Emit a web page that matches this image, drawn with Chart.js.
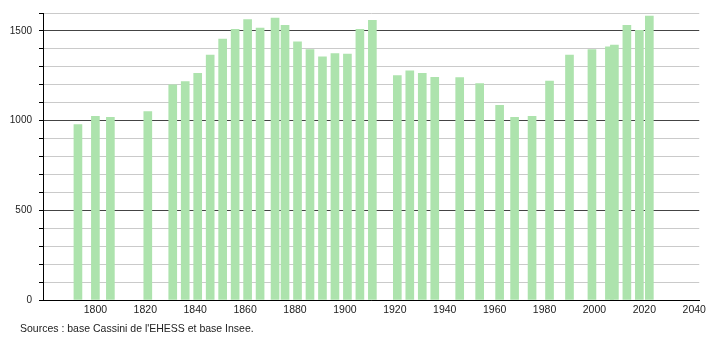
<!DOCTYPE html>
<html>
<head>
<meta charset="utf-8">
<script src="https://cdn.jsdelivr.net/npm/chart.js@4/dist/chart.umd.min.js"></script>
<style>
  html, body { margin: 0; padding: 0; background: #fff; }
  #wrap { position: relative; width: 710px; height: 340px; }
  #source {
    position: absolute; left: 20px; top: 322px;
    font: 10.5px "Liberation Sans", Arial, sans-serif; color: #222;
  }
</style>
</head>
<body>
<div id="wrap">
  <canvas id="popChart" width="710" height="340"></canvas>
  <div id="source">Sources : base Cassini de l'EHESS et base Insee.</div>
</div>
<script>
// Census years and population
const years = [1793, 1800, 1806, 1821, 1831, 1836, 1841, 1846, 1851, 1856,
  1861, 1866, 1872, 1876, 1881, 1886, 1891, 1896, 1901, 1906, 1911,
  1921, 1926, 1931, 1936, 1946, 1954, 1962, 1968, 1975, 1982, 1990,
  1999, 2006, 2008, 2013, 2018, 2022];
const population = [978, 1024, 1018, 1051, 1199, 1217, 1263, 1365, 1454, 1509,
  1564, 1516, 1572, 1531, 1439, 1396, 1356, 1374, 1371, 1509, 1559,
  1251, 1277, 1263, 1241, 1240, 1206, 1085, 1018, 1024, 1221, 1365,
  1396, 1412, 1421, 1531, 1503, 1583];

// Axis labels
const xTicks = [1800, 1820, 1840, 1860, 1880, 1900, 1920, 1940, 1960, 1980, 2000, 2020, 2040];
const yLabels = [0, 500, 1000, 1500];

const points = years.map((y, i) => ({ x: y, y: population[i] }));

const ctx = document.getElementById('popChart').getContext('2d');
new Chart(ctx, {
  type: 'bar',
  data: {
    datasets: [{
      data: points,
      backgroundColor: '#ade3ad',
      borderWidth: 0,
      barThickness: 8
    }]
  },
  options: {
    responsive: false,
    animation: false,
    layout: { padding: { top: 11, right: 9, left: 0, bottom: 0 } },
    plugins: { legend: { display: false }, tooltip: { enabled: false } },
    scales: {
      x: {
        type: 'linear',
        offset: false,
        min: 1779,
        max: 2042,
        grid: { display: false, drawTicks: false },
        border: { display: true, color: '#000', width: 1 },
        afterBuildTicks: scale => { scale.ticks = xTicks.map(v => ({ value: v })); },
        afterFit: scale => { scale.height = 40; },
        ticks: {
          padding: 4,
          maxRotation: 0,
          autoSkip: false,
          color: '#222',
          font: { family: 'Liberation Sans', size: 10.5 },
          callback: v => String(v)
        }
      },
      y: {
        min: 0,
        max: 1600,
        grid: {
          color: c => (c.tick && c.tick.value % 500 === 0) ? '#444' : '#cacaca',
          tickColor: '#000',
          tickLength: 4,
          lineWidth: 1
        },
        border: { display: true, color: '#000', width: 1 },
        afterFit: scale => { scale.width = 43; },
        ticks: {
          stepSize: 100,
          padding: 7,
          autoSkip: false,
          color: '#222',
          font: { family: 'Liberation Sans', size: 10 },
          callback: v => yLabels.includes(v) ? String(v) : ''
        }
      }
    }
  }
});
</script>
</body>
</html>
